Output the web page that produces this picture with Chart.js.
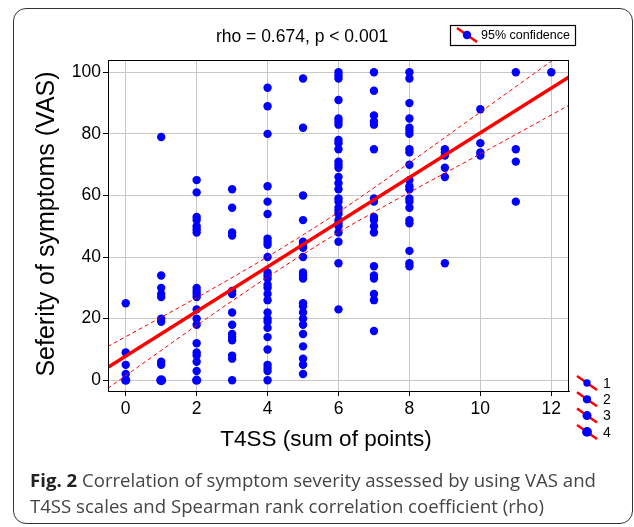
<!DOCTYPE html>
<html>
<head>
<meta charset="utf-8">
<script src="https://cdn.jsdelivr.net/npm/chart.js@4"></script>
<style>
  html, body { margin: 0; padding: 0; background: #fff; }
  #wrap { position: relative; width: 634px; height: 527px; overflow: hidden; }
  #frame {
    position: absolute; left: 13px; top: 8px; width: 620px; height: 516px;
    border: 1.5px solid #333; border-radius: 13px; box-sizing: border-box;
  }
  #chart { position: absolute; left: 0; top: 0; }
  .caption {
    position: absolute; left: 30px; top: 467px; width: 600px;
    font-family: "Open Sans", sans-serif; font-size: 18.6px; line-height: 26px;
    color: #444; white-space: nowrap;
  }
  .caption b { color: #222; }
</style>
</head>
<body>
<div id="wrap">
  <div id="frame"></div>
  <canvas id="chart" width="634" height="527"></canvas>
  <div class="caption"><b>Fig. 2</b> Correlation of symptom severity assessed by using VAS and<br>T4SS scales and Spearman rank correlation coefficient (rho)</div>
</div>
<script>
// T4SS score (x) and the VAS values read for each score
const t4ssScores = [0, 1, 2, 3, 4, 5, 6, 7, 8, 9, 10, 11, 12];
const vasByScore = [
    [25, 9, 5, 2, 0, 0],
    [79, 34, 30, 28, 27, 20, 19, 6, 5, 0, 0, 0],
    [65, 61, 53, 52, 50, 49, 48, 30, 29, 28, 27, 23, 20, 18, 12, 9, 8, 6, 3, 0, 0],
    [62, 56, 48, 47, 29, 28, 22, 18, 15, 14, 13, 8, 7, 0],
    [95, 89, 80, 63, 58, 54, 46, 45, 44, 40, 35, 34, 33, 31, 30, 28, 26, 22, 20, 19, 17, 14, 10, 5, 4, 3, 0],
    [98, 82, 60, 52, 45, 44, 43, 40, 35, 34, 33, 25, 24, 22, 20, 18, 15, 11, 7, 5, 2],
    [100, 99, 98, 91, 85, 84, 83, 78, 77, 75, 71, 70, 69, 66, 64, 62, 59, 58, 56, 55, 54, 52, 51, 50, 48, 45, 38, 23],
    [100, 94, 86, 84, 83, 75, 59, 58, 53, 52, 50, 48, 37, 34, 33, 28, 26, 16],
    [100, 98, 90, 85, 82, 81, 80, 75, 74, 70, 65, 63, 62, 59, 58, 56, 52, 51, 42, 38, 37],
    [75, 74, 73, 69, 66, 38],
    [88, 77, 74, 73],
    [100, 75, 71, 58],
    [100]
];

// regression line and 95% confidence band
const fitX = [-0.5, 12.5];
const fitY = [4.2, 98.5];
const bandX = [-0.5, 2, 4, 6, 8, 10, 12.5];
const bandUpper = [11.0, 26.8, 40.1, 54.6, 70.6, 87.1, 107.7];
const bandLower = [-2.6, 17.8, 33.5, 48.0, 61.0, 73.5, 89.3];

// ticks
const xTicks = [0, 2, 4, 6, 8, 10, 12];
const yTicks = [0, 20, 40, 60, 80, 100];
const countLabels = ['1', '2', '3', '4'];

const FONT = '"Liberation Sans", Arial, sans-serif';
const BLUE = '#0000ff';
const RED = '#ff0000';

const dotRadius = n => 4.2 + 0.4 * (n - 1);

// merge repeated values into one dot sized by count
const points = [];
t4ssScores.forEach((score, i) => {
    const counts = {};
    vasByScore[i].forEach(v => { counts[v] = (counts[v] || 0) + 1; });
    Object.keys(counts).forEach(v => {
        points.push({ x: score, y: Number(v), n: counts[v] });
    });
});

const toXY = (xs, ys) => xs.map((x, i) => ({ x: x, y: ys[i] }));

// title, legends, axis titles and full frame
const decorations = {
    id: 'decorations',
    afterDraw(chart) {
        const ctx = chart.ctx;
        const a = chart.chartArea;
        ctx.save();

        ctx.strokeStyle = '#000';
        ctx.lineWidth = 1;
        ctx.strokeRect(a.left + 0.5, a.top + 0.5, a.right - a.left - 1, a.bottom - a.top);

        ctx.fillStyle = '#000';
        ctx.font = '17.5px ' + FONT;
        ctx.textAlign = 'center';
        ctx.textBaseline = 'middle';
        ctx.fillText('rho = 0.674, p < 0.001', 302, 37);

        ctx.font = '22.5px ' + FONT;
        ctx.fillText('T4SS (sum of points)', 326, 440);
        ctx.save();
        ctx.translate(47, 224);
        ctx.rotate(-Math.PI / 2);
        ctx.font = '25px ' + FONT;
        ctx.fillText('Seferity of symptoms (VAS)', 0, 0);
        ctx.restore();

        const icon = (cx, cy, r) => {
            ctx.strokeStyle = RED;
            ctx.lineWidth = 2.5;
            ctx.beginPath();
            ctx.moveTo(cx - 10, cy - 7);
            ctx.lineTo(cx + 10, cy + 7);
            ctx.stroke();
            ctx.fillStyle = BLUE;
            ctx.beginPath();
            ctx.arc(cx, cy, r, 0, Math.PI * 2);
            ctx.fill();
        };

        // top legend box
        ctx.fillStyle = '#fff';
        ctx.fillRect(450, 25, 125, 20);
        ctx.strokeStyle = '#000';
        ctx.lineWidth = 1.2;
        ctx.strokeRect(450.5, 25.5, 125, 20);
        icon(467, 35, 4.2);
        ctx.fillStyle = '#000';
        ctx.font = '12.5px ' + FONT;
        ctx.textAlign = 'left';
        ctx.fillText('95% confidence', 481, 36);

        // count legend
        countLabels.forEach((lab, i) => {
            const cy = 383 + i * 16.3;
            icon(587, cy, dotRadius(i + 1) - 0.5);
            ctx.fillStyle = '#000';
            ctx.font = '14px ' + FONT;
            ctx.fillText(lab, 603, cy + 1);
        });
        ctx.restore();
    }
};

new Chart(document.getElementById('chart'), {
    type: 'scatter',
    data: {
        datasets: [
            {
                type: 'line',
                data: toXY(fitX, fitY),
                borderColor: RED,
                borderWidth: 3.5,
                pointRadius: 0
            },
            {
                type: 'line',
                data: toXY(bandX, bandUpper),
                borderColor: RED,
                borderWidth: 1,
                borderDash: [4, 3],
                tension: 0.3,
                pointRadius: 0
            },
            {
                type: 'line',
                data: toXY(bandX, bandLower),
                borderColor: RED,
                borderWidth: 1,
                borderDash: [4, 3],
                tension: 0.3,
                pointRadius: 0
            },
            {
                data: points,
                backgroundColor: BLUE,
                borderWidth: 0,
                pointRadius: c => dotRadius(c.raw ? c.raw.n : 1)
            }
        ]
    },
    options: {
        responsive: false,
        animation: false,
        events: [],
        layout: { padding: { left: 0, top: 60, right: 65, bottom: 106 } },
        plugins: {
            legend: { display: false },
            title: { display: false },
            tooltip: { enabled: false }
        },
        scales: {
            x: {
                type: 'linear',
                min: -0.5,
                max: 12.5,
                afterBuildTicks: s => { s.ticks = xTicks.map(v => ({ value: v })); },
                afterFit: s => { s.height = 30; },
                grid: { color: '#c8c8c8', tickColor: '#000', tickLength: 5 },
                border: { color: '#000' },
                ticks: { color: '#000', font: { family: FONT, size: 17.5 }, padding: 3, maxRotation: 0 }
            },
            y: {
                min: -3.5,
                max: 104,
                afterBuildTicks: s => { s.ticks = yTicks.map(v => ({ value: v })); },
                afterFit: s => { s.width = 108; },
                grid: { color: '#c8c8c8', tickColor: '#000', tickLength: 5 },
                border: { color: '#000' },
                ticks: { color: '#000', font: { family: FONT, size: 17.5 }, padding: 2 }
            }
        }
    },
    plugins: [decorations]
});
</script>
</body>
</html>
